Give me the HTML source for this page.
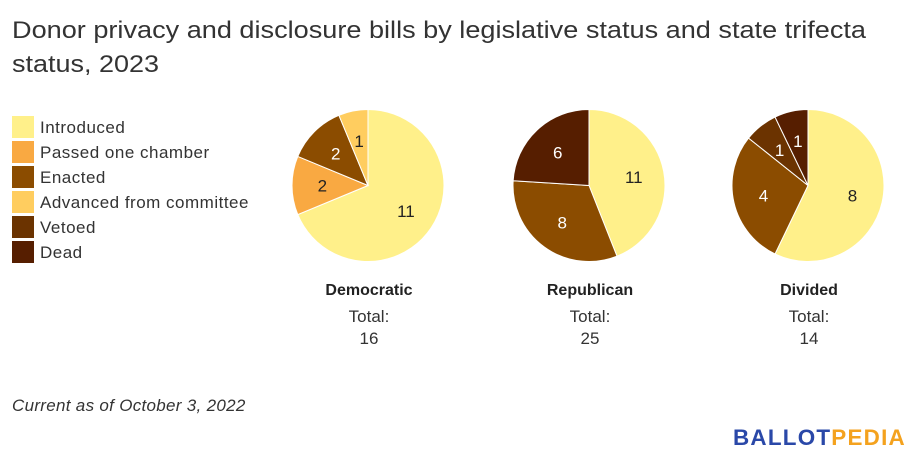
<!DOCTYPE html>
<html><head><meta charset="utf-8"><style>
html,body{margin:0;padding:0;background:#fff;width:921px;height:460px;overflow:hidden}
svg{display:block;font-family:"Liberation Sans",Arial,sans-serif}
</style></head><body>
<svg id="chart" width="921" height="460" viewBox="0 0 921 460">
<text x="12" y="38" font-size="24" fill="#333" textLength="854" lengthAdjust="spacingAndGlyphs">Donor privacy and disclosure bills by legislative status and state trifecta</text>
<text x="12" y="72" font-size="24" fill="#333" textLength="147" lengthAdjust="spacingAndGlyphs">status, 2023</text>
<g id="legend"></g>
<g id="pies"></g>
<text x="12" y="411" font-size="17" font-style="italic" fill="#333" letter-spacing="0.3">Current as of October 3, 2022</text>
<text x="733" y="445" font-size="22" font-weight="bold" letter-spacing="1.2" textLength="173" lengthAdjust="spacingAndGlyphs"><tspan fill="#2a48a8">BALLOT</tspan><tspan fill="#f4a21e">PEDIA</tspan></text>
</svg>
<script>
const categories = ["Introduced","Passed one chamber","Enacted","Advanced from committee","Vetoed","Dead"];
const colors = ["#fff08a","#f9a942","#8b4c00","#ffcd5f","#6b3300","#561e00"];
const darkText = [true,true,false,true,false,false];
const groups = ["Democratic","Republican","Divided"];
const demValues = [11,2,2,1,0,0];
const repValues = [11,0,8,0,0,6];
const divValues = [8,0,4,0,1,1];
const seriesValues = [demValues, repValues, divValues];

const NS = "http://www.w3.org/2000/svg";
function mk(tag, attrs, parent){const e=document.createElementNS(NS,tag);for(const k in attrs)e.setAttribute(k,attrs[k]);parent.appendChild(e);return e;}

const legend = document.getElementById('legend');
categories.forEach((c,i)=>{
  const y = 116 + i*25;
  const r = mk('rect',{x:12,y:y,width:22,height:22,fill:colors[i]},legend);
  
  
  const t = mk('text',{x:40,y:y+17,'font-size':17,'letter-spacing':0.5,fill:'#333'},legend);
  t.textContent = c;
  
  
});

const pies = document.getElementById('pies');
const cxs = [368,589,808], cy = 185.5, R = 76;
function pt(a, r, cx){return [cx + r*Math.sin(a), cy - r*Math.cos(a)];}
groups.forEach((g,gi)=>{
  const vals = seriesValues[gi];
  const total = vals.reduce((a,b)=>a+b,0);
  const cx = cxs[gi];
  let a0 = 0;
  vals.forEach((v,i)=>{
    if(!v) return;
    const a1 = a0 + v/total*2*Math.PI;
    const p0 = pt(a0,R,cx), p1 = pt(a1,R,cx);
    const large = (a1-a0) > Math.PI ? 1 : 0;
    const path = mk('path',{d:`M${cx},${cy} L${p0[0]},${p0[1]} A${R},${R} 0 ${large} 1 ${p1[0]},${p1[1]} Z`,fill:colors[i],stroke:'#fff','stroke-width':1},pies);
    
    
    const m = (a0+a1)/2;
    const lp = pt(m, R*0.6, cx);
    const t = mk('text',{x:lp[0],y:lp[1]+6,'font-size':17,'text-anchor':'middle',fill:darkText[i]?'#222':'#fff'},pies);
    t.textContent = v;
    
    
    a0 = a1;
  });
  const t1 = mk('text',{x:cx+1,y:295,'font-size':16,'font-weight':'bold','text-anchor':'middle',fill:'#222'},pies);
  t1.textContent = g;
  
  
  const t2 = mk('text',{x:cx+1,y:322,'font-size':17,'text-anchor':'middle',fill:'#333'},pies);
  t2.textContent = 'Total:';
  
  
  const t3 = mk('text',{x:cx+1,y:344,'font-size':17,'text-anchor':'middle',fill:'#333'},pies);
  t3.textContent = total;
  
  
});
</script>
</body></html>
